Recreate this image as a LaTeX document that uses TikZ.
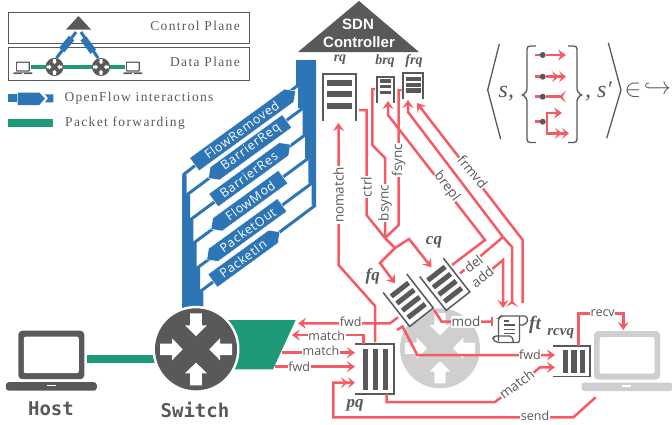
\documentclass[tikz,border=0pt]{standalone}
\usepackage{fontspec}
\usetikzlibrary{arrows.meta,shapes.symbols}
\setmainfont{Liberation Serif}
\newfontfamily\lgfont[LetterSpace=10]{Liberation Serif}
\newfontfamily\lblfont{Open Sans}
\newfontfamily\ofont[LetterSpace=6]{Open Sans}
\newfontfamily\ctlfont{Liberation Sans}
\newfontfamily\hostfont{DejaVu Sans Mono}
\definecolor{ink}{HTML}{595959}
\definecolor{ofblue}{HTML}{2E75B6}
\definecolor{pkgreen}{HTML}{1F9A78}
\definecolor{pkred}{HTML}{F45B64}
\definecolor{faint}{HTML}{D0CECE}
\tikzset{
  pk/.style={draw=pkred, line width=2.5pt},
  pka/.style={pk, -{Stealth[length=8pt,width=11pt,inset=3pt]}},
  pkaa/.style={pk, -{Stealth[length=7pt,width=11pt,inset=3pt]Stealth[length=7pt,width=11pt,inset=3pt]}},
  pkf/.style={pk, -{Stealth[reversed,length=7pt,width=12pt,inset=3.5pt]}},
  lbl/.style={fill=white, text=ink, inner sep=.6pt, font=\lblfont\fontsize{12.5}{13}\selectfont},
  lblb/.style={lbl, font=\lblfont\fontsize{13.5}{14}\selectfont},
  qname/.style={text=ink, inner sep=0pt, font=\bfseries\itshape\fontsize{14}{15}\selectfont},
  qrail/.style={draw=ink, line width=1.5pt, fill=white},
  legend/.style={text=ink, inner sep=0pt, font=\lgfont\fontsize{13.5}{14}\selectfont},
  ofmsg/.style={signal, fill=ofblue, text=white, rotate=36, draw=white, line width=.4pt, inner sep=0pt,
    minimum height=16pt, font=\ofont\fontsize{12.5}{13}\selectfont},
  math/.style={text=ink, inner sep=0pt, font=\fontsize{26}{28}\selectfont},
}
% queue: name, open end, angle, length, half width, bars, bar width, half bar
\newcommand{\qu}[8]{%
  \begin{scope}[shift={#2},rotate=#3]
    \coordinate (#1) at (0,0);
    \draw[qrail] (0,-#5) -- (#4,-#5) -- (#4,#5) -- (0,#5);
    \foreach \b in {#6} \draw[ink, line width=#7pt] (\b,-#8) -- (\b,#8);
  \end{scope}}
% laptop: top left of the screen, colour, scale
\newcommand{\laptop}[3]{%
  \begin{scope}[shift={#1},scale=#3]
    \fill[#2, rounded corners=#3*4pt] (0,0) rectangle (66,48.5);
    \fill[white, rounded corners=#3*2pt] (5.5,6) rectangle (60.5,42.5);
    \fill[#2, rounded corners=#3*3pt] (-12.5,51.5) -- (78.5,51.5) -- (78.5,60) -- (-12.5,60) -- cycle;
    \fill[white] (28.4,54.3) rectangle (37.4,55.7);
  \end{scope}}
% switch: centre, colour, scale
\newcommand{\swt}[3]{%
  \begin{scope}[shift={#1},scale=#3]
    \fill[#2] (0,0) circle (41);
    \foreach \a in {0,90,180,270}
      \fill[white, rotate=\a] (-5.8,-36) -- (5.8,-36) -- (5.8,-24) -- (11,-24) -- (0,-13.3) -- (-11,-24) -- (-5.8,-24) -- cycle;
  \end{scope}}

\begin{document}
\begin{tikzpicture}[x=1pt,y=-1pt]
  \useasboundingbox (0,0) rectangle (672,424);
  % legend boxes
  \draw[ink, line width=.9pt] (8.5,12) rectangle (249,43.5);
  \draw[ink, line width=.9pt] (8.5,47) rectangle (249,80);
  \node[legend, anchor=east] (ctlplane) at (240,26) {Control Plane};
  \node[legend, anchor=east] (dataplane) at (240,62) {Data Plane};
  \fill[ink] (66,29.5) -- (78.5,16) -- (91,29.5) -- cycle;
  \coordinate (minil) at (54.5,67);
  \coordinate (minir) at (101,67);
  \draw[ofblue, line width=3pt] (minil) ++(2,-9) -- (76,32);
  \draw[ofblue, line width=3pt] (minir) ++(-3,-9) -- (81,32);
  \draw[ofblue, line width=7pt] (61.7,50) -- (71.7,38);
  \draw[ofblue, line width=7pt] (83.3,38.3) -- (93.3,51.7);
  \draw[pkgreen, line width=3.4pt] (31,67) -- (125,67);
  \swt{(minil)}{ink}{.22}
  \swt{(minir)}{ink}{.22}
  \laptop{(16,61.5)}{ink}{.21}
  \laptop{(126,61.5)}{ink}{.21}
  % legend keys
  \fill[ofblue] (8.3,94.3) rectangle (16.7,102.3);
  \fill[ofblue] (17.7,92.7) -- (39.3,92.7) -- (45,98.5) -- (39.3,105) -- (17.7,105) -- cycle;
  \fill[ofblue] (45,94.3) -- (53.3,94.3) -- (53.3,102.3) -- (45,102.3) -- (48,98.3) -- cycle;
  \fill[pkgreen] (8.3,119) rectangle (53.3,126.5);
  \node[legend, anchor=west] (ofkey) at (64.3,98) {OpenFlow interactions};
  \node[legend, anchor=west] (pktkey) at (65,123) {Packet forwarding};
  % controller
  \fill[ink] (298,52) -- (359,1) -- (419,52) -- cycle;
  \node[text=white, inner sep=0pt, font=\ctlfont\bfseries\fontsize{15}{16}\selectfont] (sdn) at (358,24) {SDN};
  \node[text=white, inner sep=0pt, font=\ctlfont\bfseries\fontsize{15}{16}\selectfont] (ctlr) at (359,42) {Controller};
  % blue bus
  \fill[ofblue] (182,175) -- (186.7,175) -- (186.7,195) -- (190,195) -- (190,220) -- (193.3,220) -- (193.3,243)
    -- (196.7,243) -- (196.7,268) -- (200,268) -- (200,292) -- (203.3,292) -- (203.3,312) -- (182,312) -- cycle;
  \fill[ofblue] (296,60) -- (316,60) -- (316,205) -- (311.7,205) -- (311.7,183) -- (308.3,183) -- (308.3,158)
    -- (305,158) -- (305,135) -- (302.7,135) -- (302.7,108) -- (298,108) -- (298,85) -- (296,85) -- cycle;
  \foreach \ya/\xb/\yb/\xc in {175/298.3/85/183,195/302.7/108.3/186.7,220/305/135/190,243.3/308.3/158.3/193.3,268.3/311.7/183.3/196.7,291.7/315.7/205/200}
    \draw[ofblue, line width=3pt] (\xc,\ya) -- (\xb,\yb);
  \node[ofmsg, signal to=east, minimum width=125pt] (flowrem) at (241.7,130) {FlowRemoved};
  \node[ofmsg, signal to=west, minimum width=97pt] (barreq) at (251,147.3) {BarrierReq};
  \node[ofmsg, signal to=east, minimum width=95pt] (barres) at (248.7,174.7) {BarrierRes};
  \node[ofmsg, signal to=west, minimum width=89pt] (flowmod) at (250.3,200.7) {FlowMod};
  \node[ofmsg, signal to=west, minimum width=93pt] (pktout) at (247.7,230) {PacketOut};
  \node[ofmsg, signal to=east, minimum width=83pt] (pktin) at (243,258.7) {PacketIn};
  % host, green links, switch
  \fill[pkgreen] (87.3,355.3) rectangle (160,363.3);
  \fill[pkgreen] (220,320) -- (295.7,320) -- (273,369.3) -- (220,369.3) -- cycle;
  \laptop{(18.3,330.7)}{ink}{1}
  \fill[white] (196,349.3) circle (43.5);
  \swt{(196,349.3)}{ink}{1}
  \node[text=ink, inner sep=0pt, font=\hostfont\bfseries\fontsize{19}{21}\selectfont] (host) at (51,409) {Host};
  \node[text=ink, inner sep=0pt, font=\hostfont\bfseries\fontsize{19}{21}\selectfont] (switch) at (195,410) {Switch};
  % faded switch and host
  \swt{(440,348.3)}{faint}{.975}
  \laptop{(594,331)}{faint}{1}
  % queues
  \qu{rq}{(339.5,121)}{90}{47}{16.5}{15,27,38}{6}{12.5}
  \qu{brq}{(385.5,103)}{90}{26}{8.5}{10.7,16.5,22}{3.4}{5.5}
  \qu{frq}{(413,99)}{90}{26}{10}{8.5,14.3,20}{4.2}{7.5}
  \qu{fq}{(395,283.3)}{-52}{43}{15}{8,17,26,35}{5}{11}
  \qu{cq}{(431.5,267.3)}{-52}{43}{15}{8,17,26,35}{5}{11}
  \qu{pq}{(355,369)}{0}{39}{25}{10.5,20.5,30.5}{5.6}{20.5}
  \qu{rcvq}{(553.3,361.3)}{0}{36.7}{15.3}{12.3,20.5,29}{5.6}{11.5}
  % forwarding table
  \begin{scope}[ink, line width=1.3pt]
    \draw[rounded corners=2pt] (498.5,341) -- (498.5,318) -- (501,316) -- (525,316);
    \draw[rounded corners=2pt] (519.5,316) -- (519.5,342.5) -- (497,342.5) -- (492.5,339.5) -- (494,336) -- (512,336) -- (513.5,342.5);
    \draw[rounded corners=2pt] (525,316) -- (528.5,319) -- (525,325) -- (519.5,325);
    \foreach \ly/\lx in {321/509,325/515,329.5/515,333.5/515} \draw (503.5,\ly) -- (\lx,\ly);
  \end{scope}
  % red lines, control side
  \coordinate (rqin) at (338.5,123);
  \coordinate (brqin) at (388,101);
  \coordinate (frqa) at (408,100);
  \coordinate (frqb) at (417,103);
  \coordinate (ctlout) at (359,110);
  \coordinate (bsout) at (375,89);
  \coordinate (fsout) at (401.7,90);
  \coordinate (merge) at (385,238);
  \coordinate (fork) at (395,248);
  \coordinate (ftsplit) at (503,237);
  \draw[pka, preaction={draw=white, line width=5pt, -}] (pq) ++(20,-27) -- (375,306) -- (338.5,265) -- (rqin);
  \draw[pk] (ctlout) -- (366.5,110) -- (366.5,215) -- (merge);
  \draw[pk] (bsout) -- (372.3,89) -- (372.3,145) -- (385,158) -- (merge);
  \draw[pk] (fsout) -- (398.7,90) -- (398.7,225) -- (merge);
  \draw[pk] (merge) -- (fork);
  \draw[pka] (fork) -- (409,239) -- (cq);
  \draw[pka] (fork) -- (380,263) -- (fq);
  \draw[pka] (452,265) -- (485,240) -- (388,115) -- (brqin);
  \draw[pka] (ftsplit) -- (408,112) -- (frqa);
  \draw[pka] (522.7,303) -- (522.7,240) -- (frqb);
  \draw[pkf] (ftsplit) -- (512,247) -- (512,307);
  \draw[pk] (460,273.5) -- (ftsplit);
  \draw[pka] (473,285.5) -- (497,265) -- (503,260) -- (503,308);
  % red lines, data side
  \draw[pka] (398,317.3) -- (390,323.3) -- (298,323.3);
  \draw[pka] (363.3,344) -- (363.3,335) -- (291.7,335);
  \draw[pka] (282.3,352.7) -- (355,352.7);
  \draw[pka] (275,366.7) -- (355,366.7);
  \draw[pkaa] (595.7,397.3) -- (573.3,417.3) -- (333.3,417.3) -- (333.3,382.7) -- (355,382.7);
  \draw[pka] (386.7,394) -- (386.7,402) -- (495,402) -- (535,371.5) -- (540,367.3) -- (555,367.3);
  \draw[pka] (397,330) -- (402.5,326.5) -- (417.3,355) -- (555,355);
  \draw[pk, -{Bar[width=9pt]}] (434,310) -- (441.7,321.7) -- (493.3,321.7);
  \draw[pka] (578.3,346) -- (578.3,313.3) -- (623.3,313.3) -- (623.3,330);
  % labels on the red lines
  \node[lblb, rotate=90] (nomatch) at (338.5,195) {nomatch};
  \node[lblb, rotate=90] (ctrl) at (366.5,187) {ctrl};
  \node[lblb, rotate=90] (bsync) at (385,203) {bsync};
  \node[lblb, rotate=90] (fsync) at (398.7,160) {fsync};
  \node[lblb, rotate=-52] (brepl) at (446.7,186.7) {brepl};
  \node[lblb, rotate=-50] (frmvd) at (472.7,171.7) {frmvd};
  \node[lblb, rotate=38] (del) at (473.3,264) {del};
  \node[lblb, rotate=38] (add) at (482.3,276.7) {add};
  \node[lbl] (fwda) at (350.7,322) {fwd};
  \node[lbl] (matcha) at (326.7,336) {match};
  \node[lbl] (matchb) at (321,350.7) {match};
  \node[lbl] (fwdb) at (299.3,366.7) {fwd};
  \node[lblb] (mod) at (466,321.7) {mod};
  \node[lbl] (fwdc) at (530,355) {fwd};
  \node[lblb, rotate=37] (matchc) at (516.7,384) {match};
  \node[lbl] (send) at (535,416) {send};
  \node[lbl] (recv) at (602.7,313) {recv};
  % queue names
  \node[qname] (rqname) at (340,60) {rq};
  \node[qname] (brqname) at (385,61) {brq};
  \node[qname] (frqname) at (414,61) {frq};
  \node[qname, font=\bfseries\itshape\fontsize{17}{18}\selectfont] (cqname) at (434,242.7) {cq};
  \node[qname, font=\bfseries\itshape\fontsize{17}{18}\selectfont] (fqname) at (372.7,276.7) {fq};
  \node[qname, font=\bfseries\itshape\fontsize{17}{18}\selectfont] (pqname) at (355,405) {pq};
  \node[qname, font=\bfseries\itshape\fontsize{19}{20}\selectfont] (ftname) at (535,325) {ft};
  \node[qname, font=\bfseries\itshape\fontsize{15}{16}\selectfont] (rcvqname) at (560.7,334) {rcvq};
  % transition formula
  \draw[ink, line width=1.3pt] (499.3,44) -- (487.7,90) -- (500.7,139.3);
  \draw[ink, line width=1.3pt] (608.3,42.7) -- (621,90) -- (606.7,138.3);
  \draw[ink, line width=1.3pt, rounded corners=3pt] (536,46) -- (527,46) -- (527,92) -- (522,95) -- (527,98) -- (527,142.5) -- (536,142.5);
  \draw[ink, line width=1.3pt, rounded corners=3pt] (568,46) -- (577,46) -- (577,92) -- (582,95) -- (577,98) -- (577,142.5) -- (568,142.5);
  \node[math, font=\itshape\fontsize{24}{26}\selectfont, anchor=base west] (sa) at (498.5,97) {s,};
  \node[math, font=\itshape\fontsize{24}{26}\selectfont, anchor=base west] (sb) at (585,97) {, s′};
  \node[math] (inset) at (633,90) {$\in$};
  \node[math, anchor=east] (hook) at (671.5,89) {$\hookrightarrow$};
  \foreach \ry in {55,76.7,96.7,121.7} {
    \draw[pkred, line width=2.5pt] (535,\ry) -- (539.5,\ry);
    \fill[ink] (542.7,\ry) circle (3);
  }
  \draw[pka] (546,55) -- (566,55);
  \draw[pkaa] (546,76.7) -- (566,76.7);
  \draw[pkf] (546,96.7) -- (566,96.7);
  \draw[pka] (546,121.7) -- (547,121.7) -- (547,113) -- (562,113);
  \draw[pkaa] (547,121.7) -- (547,133.3) -- (569,133.3);
\end{tikzpicture}
\end{document}
